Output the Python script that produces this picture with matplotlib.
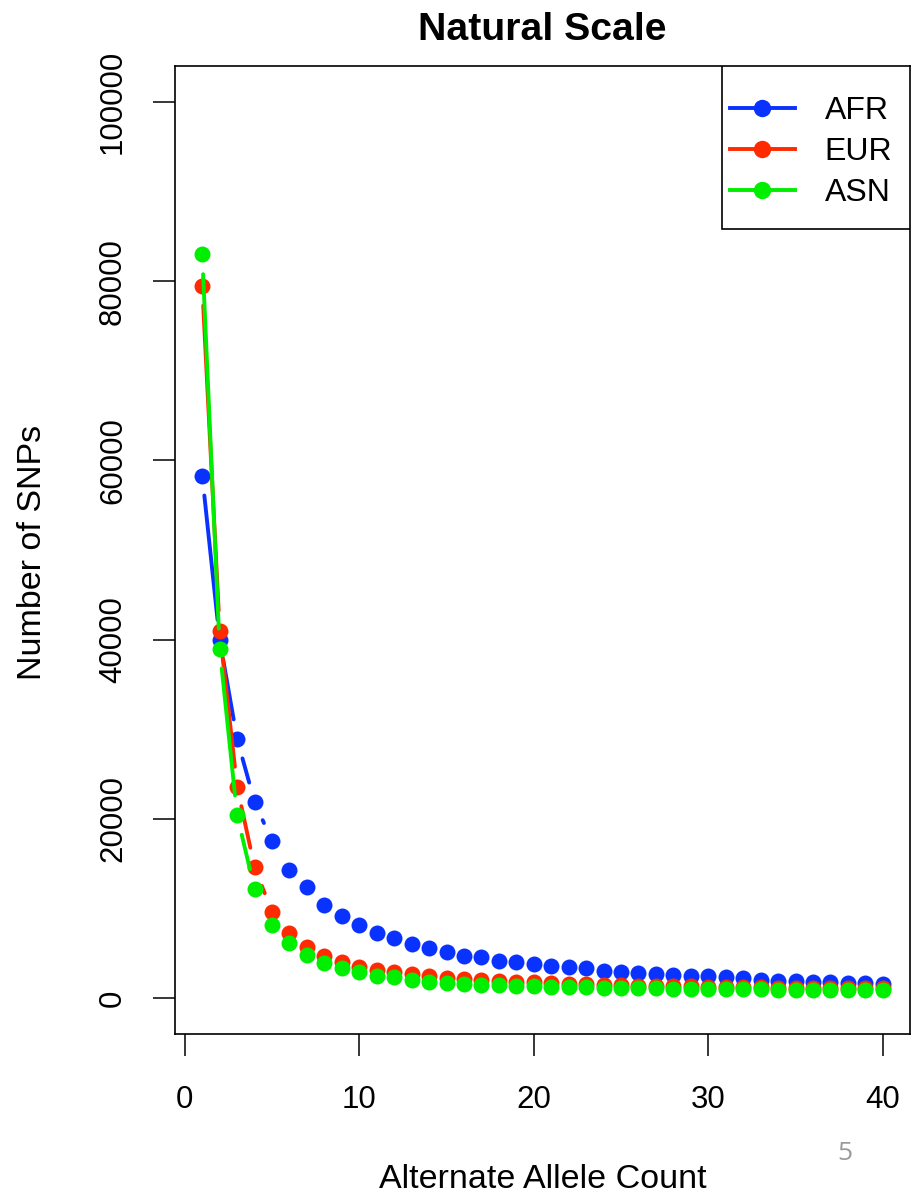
import numpy as np
import matplotlib
matplotlib.use("Agg")
import matplotlib.pyplot as plt
from matplotlib.patches import Rectangle

plt.rcParams['font.family'] = ['Liberation Sans', 'DejaVu Sans']

# allele counts 1..40 and SNP counts
allele_count = list(range(1, 41))
afr = [58300, 40000, 28900, 21900, 17500, 14300, 12400, 10400, 9180, 8150,
       7220, 6660, 5990, 5540, 5100, 4650, 4540, 4200, 3980, 3790,
       3610, 3420, 3310, 3050, 2940, 2790, 2680, 2570, 2490, 2420,
       2310, 2200, 2010, 1930, 1930, 1820, 1800, 1670, 1640, 1560]
eur = [79500, 41000, 23600, 14600, 9630, 7220, 5730, 4720, 4000, 3450,
       3100, 2900, 2650, 2450, 2300, 2150, 2050, 1950, 1850, 1750,
       1680, 1620, 1560, 1500, 1450, 1400, 1370, 1340, 1310, 1280,
       1250, 1220, 1200, 1180, 1160, 1140, 1120, 1100, 1090, 1080]
asn = [83000, 39000, 20400, 12200, 8200, 6100, 4800, 3870, 3310, 2870,
       2490, 2310, 2010, 1820, 1670, 1560, 1480, 1420, 1360, 1300,
       1260, 1220, 1190, 1160, 1130, 1100, 1080, 1060, 1040, 1020,
       1000, 990, 975, 960, 950, 940, 930, 920, 910, 900]

series = [("AFR", afr, "#0A32FF"), ("EUR", eur, "#FF2A00"), ("ASN", asn, "#00EE00")]
x_ticks = [0, 10, 20, 30, 40]
y_ticks = [0, 20000, 40000, 60000, 80000, 100000]

W, H = 916, 1198
fig = plt.figure(figsize=(W / 100, H / 100), dpi=100)
ax = fig.add_axes([175 / W, 1 - 1034 / H, 735 / W, 968 / H])
ax.set_xlim(-0.56, 41.56)
ax.set_ylim(-4000, 104000)

GAP = 20  # pixels of empty line around each point (R type="b")


def gapped(xs, ys):
    pts = ax.transData.transform(np.column_stack([xs, ys]))
    out = []
    for a, b in zip(pts[:-1], pts[1:]):
        d = np.hypot(*(b - a))
        if d <= 2 * GAP:
            continue
        u = (b - a) / d
        seg = ax.transData.inverted().transform(np.array([a + GAP * u, b - GAP * u]))
        out.append(seg)
        out.append([[np.nan, np.nan]])
    arr = np.vstack(out)
    return arr[:, 0], arr[:, 1]


for name, vals, col in series:
    gx, gy = gapped(allele_count, vals)
    ax.plot(gx, gy, color=col, lw=2.8, solid_capstyle='round')
    ax.plot(allele_count, vals, 'o', color=col, ms=11.5, mec='none')
    ax.plot([], [], '-o', color=col, lw=2.8, ms=11.5, label=name)

ax.set_xticks(x_ticks)
ax.set_yticks(y_ticks)
ax.set_yticklabels([str(v) for v in y_ticks], rotation=90, va='center')
ax.tick_params(axis='both', length=15.8, width=1.1, direction='out', labelsize=22.5)
ax.tick_params(axis='x', pad=21)
ax.tick_params(axis='y', pad=18)
for s in ax.spines.values():
    s.set_linewidth(1.2)

ax.set_title("Natural Scale", fontsize=28.3, fontweight='bold', pad=19)
fig.text(33 / W, 1 - 552 / H, "Number of SNPs", rotation=90, ha='center', va='center', fontsize=24.5)
fig.text(543 / W, 1 - 1180 / H, "Alternate Allele Count", ha='center', va='center', fontsize=24.5)
fig.text(845 / W, 1 - 1153 / H, "5", ha='center', va='center', fontsize=19, color='#9a9a9a',
         family=['Open Sans', 'DejaVu Sans'])

# legend box drawn by hand so its padding matches R's legend()
ax.add_patch(Rectangle((0.744, 0.8316), 0.256, 0.1684, transform=ax.transAxes,
                       facecolor='white', edgecolor='black', lw=1.2, zorder=5))
leg = ax.legend(loc='upper left', bbox_to_anchor=(0.7551, 0.969), fontsize=23,
                frameon=False, borderaxespad=0, borderpad=0, handlelength=2.03,
                handletextpad=0.94, labelspacing=0.34)
leg.set_zorder(6)

fig.savefig("out.png", dpi=100)
